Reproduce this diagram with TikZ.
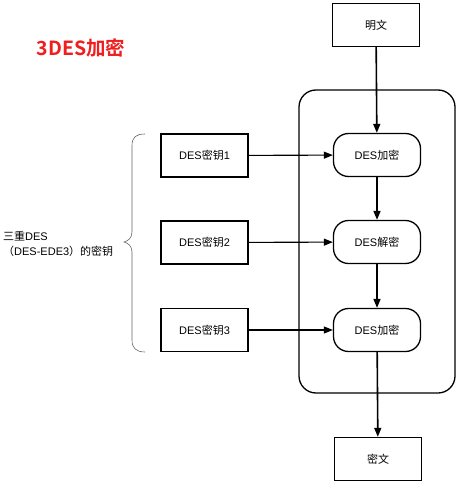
\documentclass[tikz,border=0pt]{standalone}
\usepackage{fontspec}
\setmainfont{Liberation Sans}
\newfontfamily\cjk{Noto Sans CJK SC}
\newfontfamily\cjkb{Noto Sans CJK SC Bold}
\usetikzlibrary{arrows.meta}
\definecolor{titlered}{RGB}{240,30,30}
\begin{document}
\begin{tikzpicture}[x=1pt,y=-1pt,
  box/.style={draw,line width=1.3pt,minimum width=87pt,minimum height=43pt,inner sep=0pt,font=\fontsize{11}{13}\selectfont},
  proc/.style={box,rounded corners=15pt},
  flow/.style={line width=1.6pt,-{Triangle[length=9pt,width=7pt]}},
  keyarr/.style={line width=1.1pt,-{Triangle[length=9pt,width=7pt]}},
  lbl/.style={font=\fontsize{11}{15}\selectfont,align=left,inner sep=0pt}]
\useasboundingbox (0,0) rectangle (465,489);
% frame
\node[draw,line width=1.3pt,rounded corners=17pt,minimum width=156pt,minimum height=303pt,inner sep=0pt] (frame) at (377,241.5) {};
% title
\node[text=titlered,font=\fontsize{19.5}{21}\selectfont\cjkb,inner sep=0pt] (title) at (81,48) {3DES加密};
% nodes
\node[box] (plain) at (376,25) {{\cjk 明文}};
\node[proc] (enc1) at (377,155) {DES{\cjk 加密}};
\node[proc] (dec) at (377,242) {DES{\cjk 解密}};
\node[proc] (enc3) at (377,330) {DES{\cjk 加密}};
\node[box] (cipher) at (378,459) {{\cjk 密文}};
\node[box] (k1) at (204.5,155.5) {DES{\cjk 密钥}1};
\node[box] (k2) at (204.5,242.5) {DES{\cjk 密钥}2};
\node[box] (k3) at (204.5,330) {DES{\cjk 密钥}3};
% flow
\draw[flow] (plain) -- (enc1);
\draw[flow] (enc1) -- (dec);
\draw[flow] (dec) -- (enc3);
\draw[flow] (enc3) -- (cipher);
\draw[keyarr] (k1) -- (enc1);
\draw[keyarr] (k2) -- (dec);
\draw[keyarr] (k3) -- (enc3);
% brace
\coordinate (bt) at (145,134);
\coordinate (bb) at (145,352);
\coordinate (tip) at (124,242);
\draw[gray!80!black,line width=0.6pt] (bt) .. controls (136,134) and (132,137) .. (132,146) -- (132,232)
  .. controls (132,238) and (128,241) .. (tip)
  .. controls (128,243) and (132,246) .. (132,252) -- (132,340)
  .. controls (132,348) and (136,352) .. (bb);
% left label
\node[lbl,anchor=west] (klabel) at (3,244) {{\cjk 三重}DES\\{\cjk （}DES-EDE3{\cjk ）的密钥}};
\end{tikzpicture}
\end{document}
